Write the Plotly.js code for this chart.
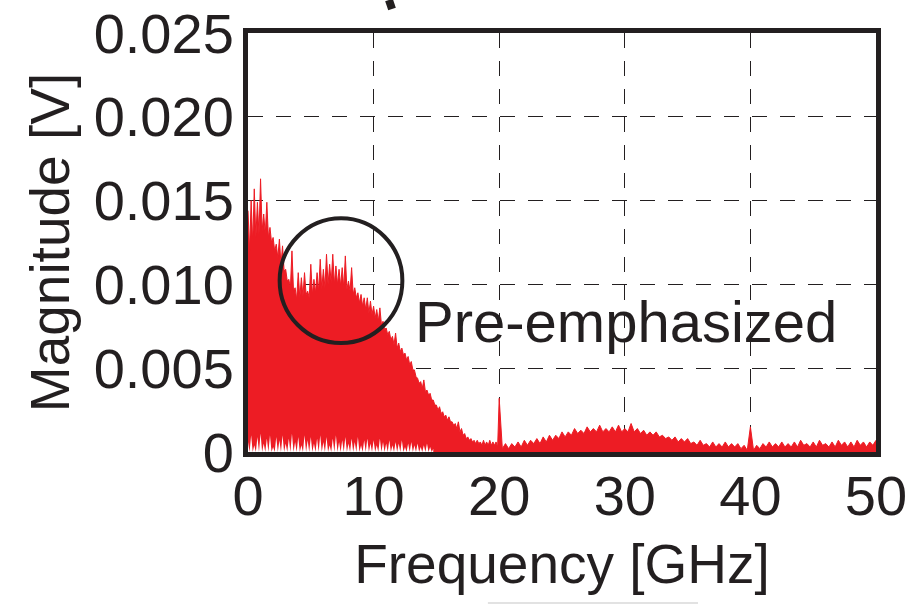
<!DOCTYPE html>
<html>
<head>
<meta charset="utf-8">
<script src="https://cdn.plot.ly/plotly-3.0.1.min.js"></script>
<style>html,body{margin:0;padding:0;background:#fff;}#chart{width:910px;height:604px;}</style>
</head>
<body>
<div id="chart"></div>
<script>
// ---- Data (frequency in GHz, magnitude in V) ----
const lowBandFreq = [0,0.25,0.5,0.75,1,1.25,1.5,1.75,2,2.25,2.5,2.75,3,3.25,3.5,3.75,4,4.25,4.5,4.75,
  5,5.25,5.5,5.75,6,6.25,6.5,6.75,7,7.25,7.5,7.75,8,8.25,8.5,8.75,9,9.25,9.5,9.75,
  10,10.25,10.5,10.75,11,11.25,11.5,11.75,12,12.25,12.5,12.75,13,13.25,13.5,13.75,14,14.25,14.5,14.75,
  15,15.25,15.5,15.75,16,16.25,16.5,16.75,17,17.25,17.5,17.75,18,18.25,18.5,18.75,19,19.25,19.5,19.75];
const lowBandPeak = [0.0144,0.0150,0.0157,0.0149,0.0163,0.0142,0.0149,0.0134,0.0128,0.0124,0.0127,0.0123,0.0109,0.0103,0.0120,0.0098,0.0107,0.0104,0.0107,0.0096,
  0.0112,0.0103,0.0107,0.0115,0.0109,0.0118,0.0112,0.0118,0.0111,0.0109,0.0110,0.0117,0.0102,0.0110,0.0098,0.0095,0.0094,0.0092,0.0092,0.0090,
  0.0087,0.0085,0.0086,0.0078,0.0074,0.0072,0.0069,0.0071,0.0065,0.0062,0.0059,0.0057,0.0054,0.0049,0.0044,0.0042,0.0043,0.0037,0.0035,0.0031,
  0.0028,0.0027,0.0024,0.0022,0.0021,0.0018,0.0017,0.0018,0.0014,0.0011,0.0009,0.0008,0.0007,0.0007,0.0006,0.0007,0.0006,0.0007,0.0006,0.0006];
const lowBandValley = [0.0120,0.0125,0.0128,0.0130,0.0132,0.0130,0.0128,0.0125,0.0120,0.0116,0.0112,0.0108,0.0102,0.0098,0.0096,0.0091,0.0092,0.0093,0.0094,0.0092,
  0.0094,0.0095,0.0096,0.0097,0.0098,0.0100,0.0101,0.0100,0.0100,0.0099,0.0098,0.0097,0.0096,0.0094,0.0092,0.0089,0.0087,0.0085,0.0083,0.0082,
  0.0080,0.0078,0.0076,0.0073,0.0070,0.0067,0.0064,0.0062,0.0060,0.0058,0.0055,0.0052,0.0049,0.0045,0.0041,0.0038,0.0036,0.0034,0.0031,0.0028,
  0.0025,0.0023,0.0021,0.0019,0.0018,0.0016,0.0014,0.0012,0.0010,0.0008,0.0007,0.0006,0.0005,0.0005,0.0004,0.0004,0.0004,0.0004,0.0004,0.0003];

const highBandFreq = [20,20.5,21,21.5,22,22.5,23,23.5,24,24.5,25,25.5,26,26.5,27,27.5,28,28.5,29,29.5,
  30,30.5,31,31.5,32,32.5,33,33.5,34,34.5,35,35.5,36,36.5,37,37.5,38,38.5,39,39.5,
  40,40.5,41,41.5,42,42.5,43,43.5,44,44.5,45,45.5,46,46.5,47,47.5,48,48.5,49,49.5,50];
const highBandPeak = [0.0032,0.0005,0.0005,0.0006,0.0007,0.0007,0.0008,0.0009,0.0010,0.0010,0.0012,0.0012,0.0014,0.0013,0.0015,0.0014,0.0016,0.0014,0.0015,0.0016,
  0.0014,0.0017,0.0014,0.0013,0.0012,0.0012,0.0010,0.0009,0.0009,0.0008,0.0008,0.0006,0.0007,0.0005,0.0006,0.0005,0.0006,0.0005,0.0005,0.0004,
  0.0015,0.0004,0.0005,0.0006,0.0005,0.0006,0.0005,0.0006,0.0007,0.0005,0.0006,0.0007,0.0005,0.0006,0.0007,0.0006,0.0006,0.0007,0.0006,0.0006,0.0007];
const highBandValley = [0.0002,0.0002,0.0003,0.0003,0.0004,0.0005,0.0005,0.0006,0.0007,0.0008,0.0009,0.0010,0.0011,0.0011,0.0012,0.0012,0.0012,0.0012,0.0012,0.0012,
  0.0012,0.0012,0.0011,0.0010,0.0010,0.0009,0.0008,0.0007,0.0006,0.0006,0.0005,0.0004,0.0004,0.0003,0.0003,0.0003,0.0003,0.0003,0.0002,0.0001,
  0.0001,0.0002,0.0003,0.0003,0.0003,0.0003,0.0003,0.0003,0.0004,0.0003,0.0003,0.0004,0.0003,0.0003,0.0004,0.0003,0.0003,0.0004,0.0003,0.0004,0.0004];

// gaps near the floor of the spectrum (white notches between the downward spikes)
const floorFreq = lowBandFreq.slice(0, 60);
const floorGap = [0.0006,0.0010,0.0004,0.0009,0.0011,0.0005,0.0008,0.0010,0.0003,0.0009,0.0007,0.0010,0.0005,0.0008,0.0011,0.0006,0.0009,0.0004,0.0010,0.0007,
  0.0009,0.0005,0.0008,0.0010,0.0006,0.0009,0.0004,0.0008,0.0010,0.0006,0.0007,0.0009,0.0005,0.0008,0.0006,0.0009,0.0004,0.0007,0.0008,0.0005,
  0.0007,0.0004,0.0008,0.0006,0.0005,0.0007,0.0004,0.0006,0.0005,0.0007,0.0003,0.0005,0.0006,0.0004,0.0005,0.0003,0.0004,0.0005,0.0003,0.0002];

const xTickVals = [0,10,20,30,40,50];
const xTickText = ['0','10','20','30','40','50'];
const yTickVals = [0,0.005,0.010,0.015,0.020,0.025];
const yTickText = ['0','0.005','0.010','0.015','0.020','0.025'];

// ---- build zig-zag traces (peak at bin start, valley half a bin later) ----
function zigzag(freq, hi, lo) {
  const xs = [], ys = [];
  for (let i = 0; i < freq.length; i++) {
    const step = (i < freq.length - 1) ? freq[i + 1] - freq[i] : freq[i] - freq[i - 1];
    xs.push(freq[i]); ys.push(hi[i]);
    if (i < freq.length - 1) { xs.push(freq[i] + step / 2); ys.push(lo[i]); }
  }
  return {xs, ys};
}
const allFreq = lowBandFreq.concat(highBandFreq);
const allPeak = lowBandPeak.concat(highBandPeak);
const allValley = lowBandValley.concat(highBandValley);
const spec = zigzag(allFreq, allPeak, allValley);
const zeros = floorFreq.map(() => 0);
const floor = zigzag(floorFreq, floorGap, zeros);

const RED = '#ed1c24';
const INK = '#231f20';
const FONT = 'Liberation Sans, Arial, Helvetica, sans-serif';

const traces = [
  {x: spec.xs, y: spec.ys, type: 'scatter', mode: 'lines', fill: 'tozeroy',
   fillcolor: RED, line: {color: RED, width: 1}, hoverinfo: 'skip', name: 'Pre-emphasized'},
  {x: floor.xs, y: floor.ys, type: 'scatter', mode: 'lines', fill: 'tozeroy',
   fillcolor: '#ffffff', line: {color: '#ffffff', width: 0}, hoverinfo: 'skip', name: 'floor'}
];

const layout = {
  width: 910, height: 604,
  margin: {l: 248, r: 34, t: 33, b: 152, pad: 0},
  paper_bgcolor: '#ffffff', plot_bgcolor: '#ffffff',
  showlegend: false,
  font: {family: FONT, color: INK, size: 56},
  xaxis: {
    range: [0, 50], tickmode: 'array', tickvals: xTickVals, ticktext: xTickText,
    showgrid: true, gridcolor: INK, gridwidth: 1.3, griddash: '15px,13px',
    showline: true, linecolor: INK, linewidth: 5, mirror: true, zeroline: false,
    ticks: '', ticklabelstandoff: -9, tickfont: {family: FONT, size: 56, color: INK},
    title: {text: 'Frequency [GHz]', font: {family: FONT, size: 55, color: INK}, standoff: 20},
    fixedrange: true
  },
  yaxis: {
    range: [0, 0.025], tickmode: 'array', tickvals: yTickVals, ticktext: yTickText,
    showgrid: true, gridcolor: INK, gridwidth: 1.3, griddash: '15px,13px',
    showline: true, linecolor: INK, linewidth: 5, mirror: true, zeroline: false,
    ticks: '', ticklabelstandoff: -2, tickfont: {family: FONT, size: 56, color: INK},
    title: {text: 'Magnitude [V]', font: {family: FONT, size: 55, color: INK}, standoff: 8},
    fixedrange: true
  },
  shapes: [
    {type: 'circle', xref: 'x', yref: 'y', x0: 2.52, x1: 12.29, y0: 0.0065, y1: 0.01395,
     line: {color: INK, width: 4}, layer: 'above'},
    {type: 'line', xref: 'paper', yref: 'paper', x0: 0.2245, y0: 1.0788, x1: 0.2293, y1: 1.0573,
     line: {color: INK, width: 8}},
    {type: 'line', xref: 'paper', yref: 'paper', x0: 0.382, y0: -0.3604, x1: 0.7166, y1: -0.3604,
     line: {color: '#d8d8d8', width: 1.5}}
  ],
  annotations: [
    {text: 'Pre-emphasized', xref: 'x', yref: 'y', x: 30.1, y: 0.0078,
     xanchor: 'center', yanchor: 'middle', showarrow: false,
     font: {family: FONT, size: 58, color: INK}}
  ]
};

Plotly.newPlot('chart', traces, layout, {displayModeBar: false, staticPlot: true});
</script>
</body>
</html>
